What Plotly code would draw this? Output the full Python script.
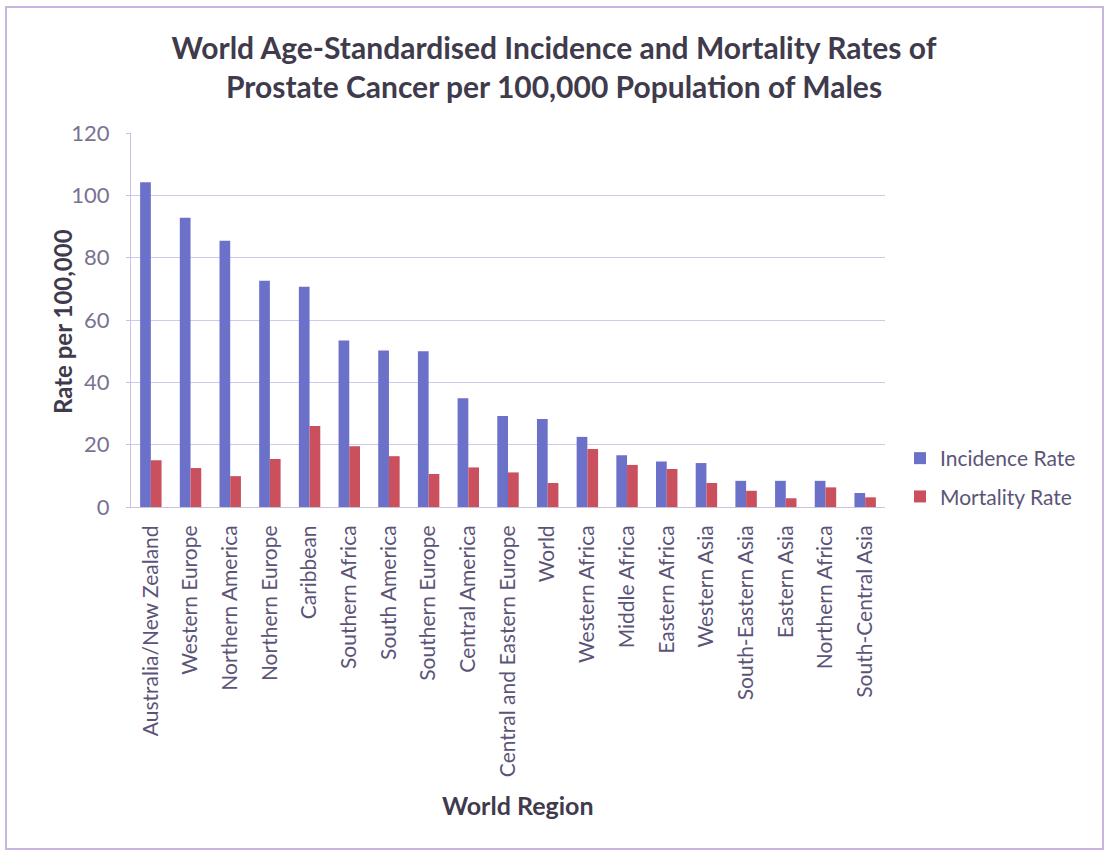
import plotly.graph_objects as go

regions = [
    "Australia/New Zealand", "Western Europe", "Northern America", "Northern Europe",
    "Caribbean", "Southern Africa", "South America", "Southern Europe",
    "Central America", "Central and Eastern Europe", "World", "Western Africa",
    "Middle Africa", "Eastern Africa", "Western Asia", "South-Eastern Asia",
    "Eastern Asia", "Northern Africa", "South-Central Asia",
]
incidence_rate = [104.2, 92.8, 85.4, 72.6, 70.7, 53.4, 50.2, 50.0,
                  34.9, 29.2, 28.2, 22.5, 16.6, 14.6, 14.1, 8.4, 8.4, 8.4, 4.5]
mortality_rate = [15.0, 12.5, 9.9, 15.4, 26.0, 19.5, 16.3, 10.6,
                  12.7, 11.1, 7.7, 18.6, 13.5, 12.2, 7.7, 5.2, 2.8, 6.3, 3.1]
y_ticks = [0, 20, 40, 60, 80, 100, 120]

W, H = 1108, 852
L, R, T, B = 131, 223, 133, 345
FONT = "Lato, 'Open Sans', sans-serif"
TEXT = "#5b5478"
DARK = "#3f3b4d"

fig = go.Figure()
fig.add_trace(go.Bar(name="Incidence Rate", x=regions, y=incidence_rate, legendgroup="inc",
                     marker=dict(color="#6b70c9", line=dict(width=0))))
fig.add_trace(go.Bar(name="Mortality Rate", x=regions, y=mortality_rate, legendgroup="mort",
                     marker=dict(color="#c9505c", line=dict(width=0))))

pw, ph = W - L - R, H - T - B
def px_to_paper(x, y):
    return (x - L) / pw, (H - B - y) / ph

# outer chart frame
fx0, fy0 = px_to_paper(6, 849)
fx1, fy1 = px_to_paper(1103, 7)
fig.add_shape(type="rect", xref="paper", yref="paper", x0=fx0, y0=fy0, x1=fx1, y1=fy1,
              line=dict(color="#c6b6e0", width=2), fillcolor="rgba(0,0,0,0)", layer="below")

# axis titles at fixed positions
ax_x, ax_y = px_to_paper(518, 805)
fig.add_annotation(text="World Region", xref="paper", yref="paper", x=ax_x, y=ax_y,
                   xanchor="center", yanchor="middle", showarrow=False,
                   font=dict(family=FONT, size=25, color=DARK, weight="bold"))
ay_x, ay_y = px_to_paper(62, 322)
fig.add_annotation(text="Rate per 100,000", xref="paper", yref="paper", x=ay_x, y=ay_y,
                   xanchor="center", yanchor="middle", showarrow=False, textangle=-90,
                   font=dict(family=FONT, size=24, color=DARK, weight="bold"))

fig.update_layout(
    width=W, height=H,
    margin=dict(l=L, r=R, t=T, b=B, autoexpand=False),
    paper_bgcolor="white", plot_bgcolor="white",
    barmode="group", bargap=0.46, bargroupgap=0.0,
    title=dict(
        text="World Age-Standardised Incidence and Mortality Rates of<br>Prostate Cancer per 100,000 Population of Males",
        x=0.5, xref="container", xanchor="center", y=1 - 59 / H, yanchor="middle",
        font=dict(family=FONT, size=30, color=DARK, weight="bold"),
    ),
    font=dict(family=FONT, color=TEXT),
    xaxis=dict(
        tickangle=-90, tickfont=dict(size=21, color=TEXT),
        showline=True, linecolor="#c9c3dd", linewidth=1,
        ticks="outside", ticklen=9, tickcolor="rgba(0,0,0,0)", showgrid=False,
    ),
    yaxis=dict(
        range=[0, 120], tickvals=y_ticks, tickfont=dict(size=22, color="#7a7290"),
        showgrid=True, gridcolor="#d2c8ee", gridwidth=1,
        showline=True, linecolor="#c9c3dd", linewidth=1, ticks="outside",
        ticklen=4, tickcolor="#c9c3dd", zeroline=False, ticklabelstandoff=12,
    ),
    legend=dict(
        x=px_to_paper(900, 0)[0], xanchor="left", y=px_to_paper(0, 438)[1], yanchor="top",
        font=dict(size=21, color=TEXT), itemwidth=30, tracegroupgap=8,
        bgcolor="rgba(0,0,0,0)",
    ),
)

fig.write_html("out.html")
